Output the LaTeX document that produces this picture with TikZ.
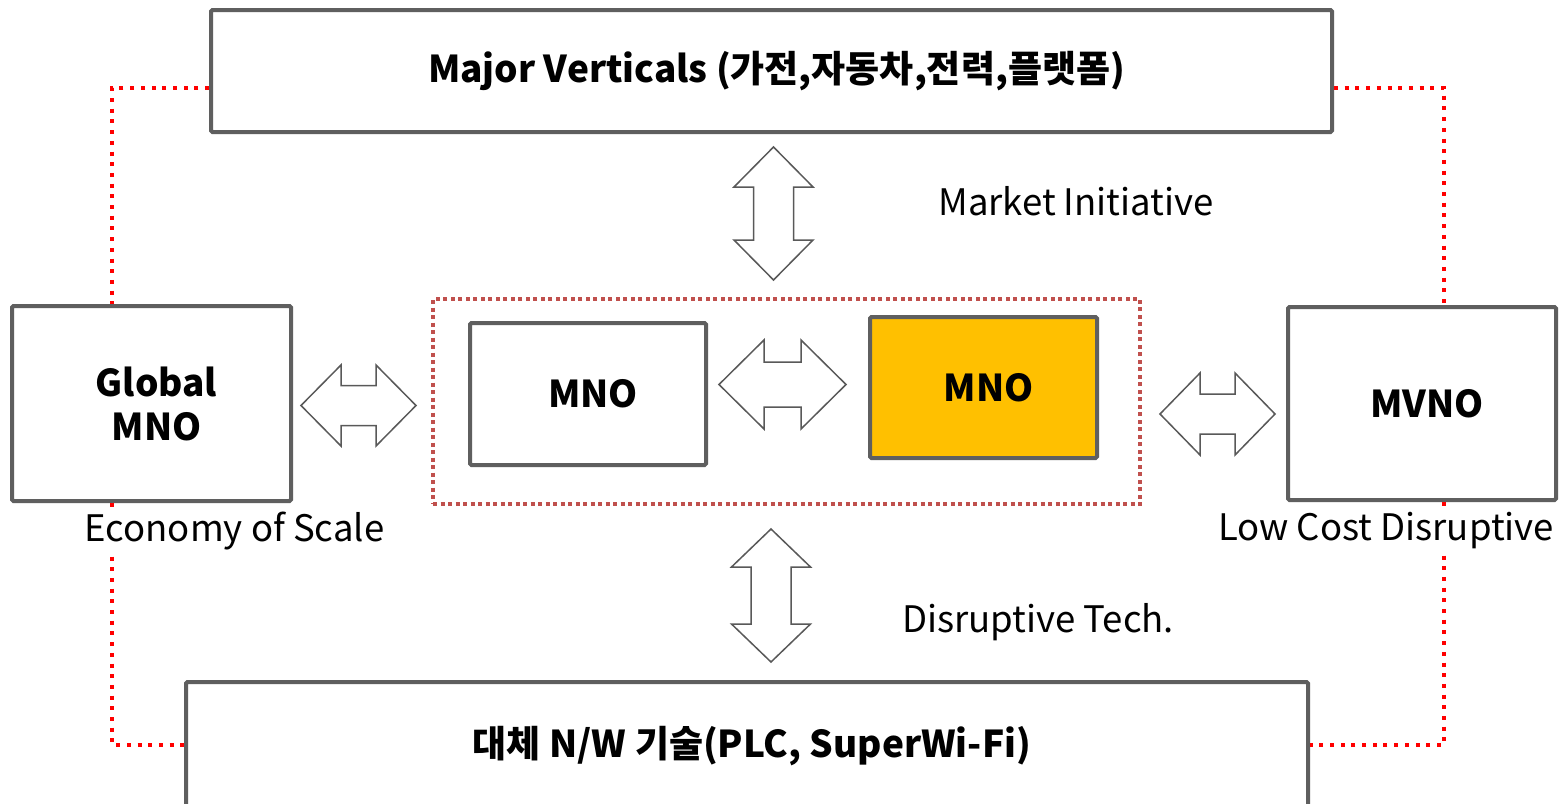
\documentclass[tikz,border=0pt]{standalone}
\usepackage{fontspec}
\setmainfont{Noto Sans CJK KR}
\begin{document}
\begin{tikzpicture}[x=1pt,y=-1pt,
  box/.style={draw=boxgray,line width=4pt,rounded corners=1.5pt,fill=white,font=\fontsize{37}{44}\selectfont\bfseries,align=center,inner sep=0pt},
  lbl/.style={fill=white,inner sep=1pt,font=\fontsize{36.5}{40}\selectfont},
  redlink/.style={draw=red,line width=4pt,dash pattern=on 4pt off 6.7pt},
  grp/.style={draw=grpred,line width=4pt,dash pattern=on 4pt off 3.5pt},
  blockarrow/.style={draw=arrgray,line width=1.5pt,fill=white,line join=miter}]
\definecolor{boxgray}{HTML}{5F5F5F}
\definecolor{arrgray}{HTML}{595959}
\definecolor{grpred}{HTML}{C0504D}
\definecolor{gold}{HTML}{FFC000}
\newcommand{\harrow}[6]{% cx cy L H W S
  \path[blockarrow] ({#1-#3},#2) -- ({#1-#3+#4},{#2-#5}) -- ({#1-#3+#4},{#2-#6}) -- ({#1+#3-#4},{#2-#6}) -- ({#1+#3-#4},{#2-#5}) -- ({#1+#3},#2) -- ({#1+#3-#4},{#2+#5}) -- ({#1+#3-#4},{#2+#6}) -- ({#1-#3+#4},{#2+#6}) -- ({#1-#3+#4},{#2+#5}) -- cycle;}
\newcommand{\varrow}[6]{% cx cy L H W S
  \path[blockarrow] (#1,{#2-#3}) -- ({#1+#5},{#2-#3+#4}) -- ({#1+#6},{#2-#3+#4}) -- ({#1+#6},{#2+#3-#4}) -- ({#1+#5},{#2+#3-#4}) -- (#1,{#2+#3}) -- ({#1-#5},{#2+#3-#4}) -- ({#1-#6},{#2+#3-#4}) -- ({#1-#6},{#2-#3+#4}) -- ({#1-#5},{#2-#3+#4}) -- cycle;}
\newcommand{\sh}{\hspace*{10pt}}
\useasboundingbox (0,0) rectangle (1565,803);
\clip (0,0) rectangle (1565,803);
\fill[white] (0,0) rectangle (1565,803);

% boxes
\node[box,minimum width=1121pt,minimum height=122pt] (top) at (771.5,71) {\sh Major Verticals (가전,자동차,전력,플랫폼)};
\node[box,minimum width=279pt,minimum height=195pt] (glob) at (151.5,403.5) {\sh Global\\[0pt]\sh MNO};
\node[box,minimum width=268pt,minimum height=193pt] (mvno) at (1422,403.5) {\sh MVNO};
\node[box,minimum width=1122pt,minimum height=128pt] (bot) at (747,746) {\sh 대체 N/W 기술(PLC, SuperWi-Fi)};

% group
\node[grp,minimum width=707pt,minimum height=205pt,inner sep=0pt] (grp) at (786.5,401.5) {};
\node[box,minimum width=236pt,minimum height=142pt] (mno1) at (588,394) {\sh MNO};
\node[box,fill=gold,minimum width=227pt,minimum height=141pt] (mno2) at (983.5,387.5) {\sh MNO};

% red dotted links
\coordinate (lt) at (112,88);
\coordinate (lb) at (112,745);
\coordinate (rt) at (1444,88);
\coordinate (rb) at (1444,745);
\draw[redlink] (top.west |- lt) -- (lt) -- (lt |- glob.north);
\draw[redlink] (lt |- glob.south) -- (lb) -- (bot.west |- lb);
\draw[redlink] (top.east |- rt) -- (rt) -- (rt |- mvno.north);
\draw[redlink] (rt |- mvno.south) -- (rb) -- (bot.east |- rb);

% labels
\node[lbl] (eos) at (234.5,531) {Economy of Scale};
\node[lbl] (lcd) at (1386,531) {Low Cost Disruptive};
\node[lbl] (mi) at (1076,201) {Market Initiative};
\node[lbl] (dt) at (1038,622) {Disruptive Tech.};

% block arrows
\harrow{358.5}{405.5}{57.5}{40}{40.5}{20}
\harrow{782.5}{384.5}{63.5}{45}{44.5}{22.5}
\harrow{1217.5}{414}{57.5}{40}{41}{20}
\varrow{773.5}{213.5}{66.5}{40}{39.5}{20}
\varrow{771}{595.5}{66.5}{38}{39.5}{20}
\end{tikzpicture}
\end{document}
